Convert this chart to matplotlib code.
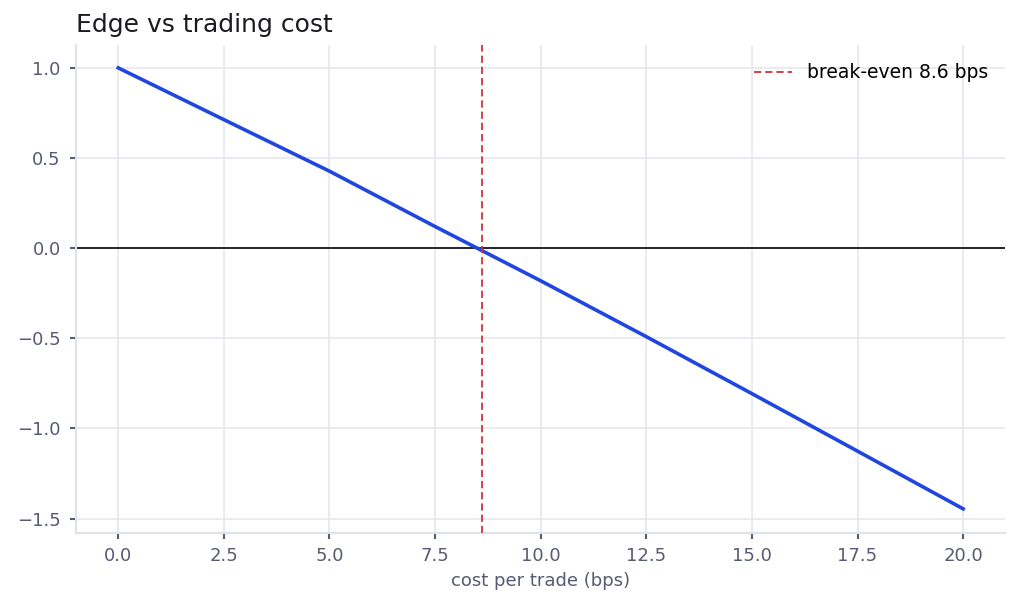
import matplotlib
matplotlib.use("Agg")
import matplotlib.pyplot as plt

# edge (net) vs cost per trade
cost_bps = [0.0, 2.5, 5.0, 7.5, 10.0, 12.5, 15.0, 17.5, 20.0]
edge = [1.0, 0.713, 0.427, 0.12, -0.181, -0.491, -0.807, -1.126, -1.446]
breakeven = 8.6

xticks = [0.0, 2.5, 5.0, 7.5, 10.0, 12.5, 15.0, 17.5, 20.0]
yticks = [-1.5, -1.0, -0.5, 0.0, 0.5, 1.0]

tick_col = '#555b72'
grid_col = '#e6e8ef'

fig = plt.figure(figsize=(10.2, 6.07), dpi=100)
ax = fig.add_axes([76/1020, 1 - 533/607, 929/1020, 488/607])

ax.plot(cost_bps, edge, color='#2146e0', lw=2.6, zorder=3)
ax.axhline(0, color='#15151c', lw=1.3, zorder=2)
ax.axvline(breakeven, color='#d1303d', lw=1.3, ls=(0, (4, 2.2)), zorder=4,
           label='break-even %.1f bps' % breakeven)

ax.set_xlim(-1.0, 20.99)
ax.set_ylim(-1.58, 1.127)
ax.set_xticks(xticks)
ax.set_yticks(yticks)
ax.set_xticklabels(['%.1f' % v for v in xticks])
ax.set_yticklabels([('%.1f' % v).replace('-', '\u2212') for v in yticks])
ax.grid(True, color=grid_col, lw=1.2, zorder=0)
ax.set_axisbelow(True)
for k, s in ax.spines.items():
    if k in ('top', 'right'):
        s.set_visible(False)
    else:
        s.set_color('#dfe2ea')
        s.set_linewidth(1.5)
ax.tick_params(length=4, width=1.5, color=tick_col, labelsize=13, labelcolor=tick_col, pad=7)
ax.tick_params(axis='x', pad=6)
ax.set_xlabel('cost per trade (bps)', fontsize=13, color=tick_col, labelpad=5)

leg = ax.legend(loc='upper right', frameon=False, fontsize=13.5, handlelength=2.0,
                handletextpad=0.8, bbox_to_anchor=(1 - 4/929, 1 - 5/488),
                borderaxespad=0.3)

fig.text(76/1020, 1 - 25/607, 'Edge vs trading cost', fontsize=18,
         color='#1a1a22', va='center', ha='left')

fig.savefig('out.png', dpi=100)
